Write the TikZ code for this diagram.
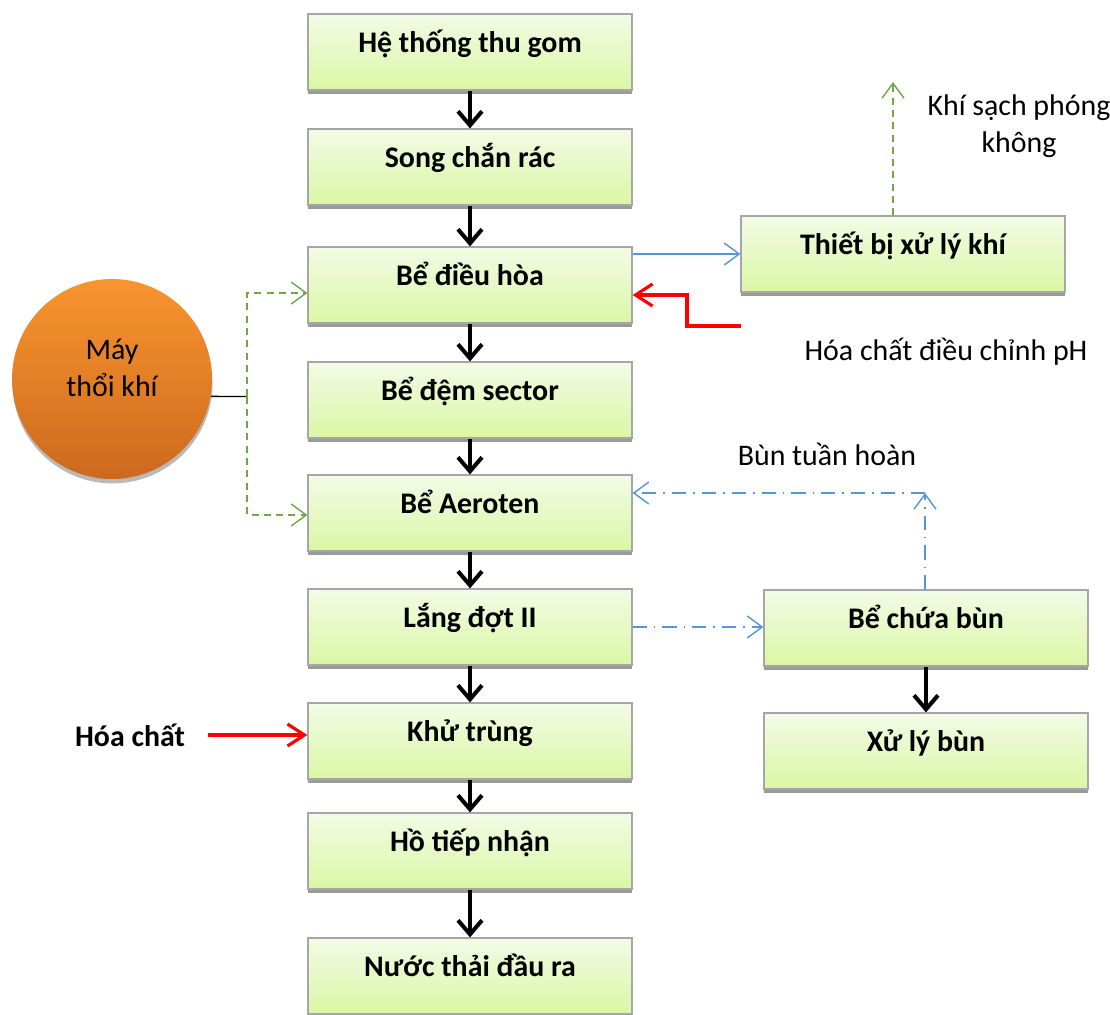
\documentclass[tikz,border=0pt]{standalone}
\usepackage{fontspec}
\setmainfont{Carlito}
\usepackage{tikz}
\usetikzlibrary{arrows.meta, shadows}

\definecolor{boxtop}{HTML}{F3FBE7}
\definecolor{boxbot}{HTML}{DAF7A4}
\definecolor{boxline}{HTML}{A6A6A6}
\definecolor{boxshade}{HTML}{9A9A9A}
\definecolor{orangetop}{HTML}{F8952F}
\definecolor{orangebot}{HTML}{CD691D}
\definecolor{airgreen}{RGB}{112,166,72}
\definecolor{sludgeblue}{RGB}{84,150,220}

\begin{document}
\begin{tikzpicture}[
  every node/.style={font=\fontsize{17}{21}\selectfont},
  box/.style={draw=boxline, line width=0.7pt, top color=boxtop, bottom color=boxbot,
    minimum width=6.48cm, minimum height=1.52cm, text height=3.5mm, text depth=3.5mm,
    font=\fontsize{17}{21}\selectfont\bfseries,
    general shadow={fill=boxshade, shadow yshift=-2.3pt}},
  blower/.style={circle, minimum size=4cm, top color=orangetop, bottom color=orangebot,
    general shadow={fill=gray!55, shadow xshift=0.3pt, shadow yshift=-2.5pt}},
  flow/.style={line width=2.3pt, -{Straight Barb[length=2.8mm, width=4.8mm]}},
  gasarrow/.style={sludgeblue, line width=0.8pt, -{Straight Barb[length=3mm, width=4.4mm]}},
  airline/.style={airgreen, line width=0.8pt, dash pattern=on 4pt off 3pt, -{Straight Barb[length=3mm, width=4.4mm]}},
  sludge/.style={sludgeblue, line width=0.8pt, dash pattern=on 8pt off 4pt on 1pt off 4pt, -{Straight Barb[length=3mm, width=4.4mm]}},
  chem/.style={red, line width=1.8pt, -{Straight Barb[length=3.4mm, width=4.4mm]}}
]
  \useasboundingbox (0, 0) rectangle (22.2, -20.28);

  % main treatment line
  \node[box] (htg) at (9.4, -1.04) {Hệ thống thu gom};
  \node[box] (scr) at (9.4, -3.34) {Song chắn rác};
  \node[box] (bdh) at (9.4, -5.70) {Bể điều hòa};
  \node[box] (bds) at (9.4, -8.00) {Bể đệm sector};
  \node[box] (bae) at (9.4, -10.26) {Bể Aeroten};
  \node[box] (ldt) at (9.4, -12.54) {Lắng đợt II};
  \node[box] (kt) at (9.4, -14.82) {Khử trùng};
  \node[box] (htn) at (9.4, -17.02) {Hồ tiếp nhận};
  \node[box] (ntr) at (9.4, -19.52) {Nước thải đầu ra};

  \draw[flow] (htg) -- (scr);
  \draw[flow] (scr) -- (bdh);
  \draw[flow] (bdh) -- (bds);
  \draw[flow] (bds) -- (bae);
  \draw[flow] (bae) -- (ldt);
  \draw[flow] (ldt) -- (kt);
  \draw[flow] (kt) -- (htn);
  \draw[flow] (htn) -- (ntr);

  % gas treatment
  \node[box] (tbxl) at (18.06, -5.08) {Thiết bị xử lý khí};
  \coordinate (khi) at (17.86, -1.64);
  \node[align=center] (khitext) at (20.38, -2.52) {Khí sạch phóng\\không};
  \draw[gasarrow] (bdh.east |- tbxl.west) -- (tbxl.west);
  \draw[airline] (tbxl.north -| khi) -- (khi);

  % pH correction
  \coordinate (ph) at (14.82, -6.52);
  \node (phtext) at (18.92, -7.04) {Hóa chất điều chỉnh pH};
  \draw[chem] (ph) -- ++(-1.08, 0) |- ([yshift=-2mm]bdh.east);

  % air blower
  \node[blower] (mtk) at (2.24, -7.58) {};
  \node[align=center] (mtktext) at (2.24, -7.36) {Máy\\thổi khí};
  \coordinate (split) at (4.94, -7.93);
  \draw[line width=0.8pt] (mtk.-10) -- (split);
  \draw[airline] (split) |- ([yshift=-1.6mm]bdh.west);
  \draw[airline] (split) |- ([yshift=-0.4mm]bae.west);

  % sludge line
  \node[box] (bcb) at (18.52, -12.56) {Bể chứa bùn};
  \node[box] (xlb) at (18.52, -15.02) {Xử lý bùn};
  \coordinate (ret) at (18.5, -9.86);
  \node (buntext) at (16.54, -9.08) {Bùn tuần hoàn};
  \draw[sludge] (ldt.east) -- (ldt.east -| bcb.west);
  \draw[sludge] (bcb.north -| ret) -- (ret);
  \draw[sludge] (ret) -- (ret -| bae.east);
  \draw[flow] (bcb) -- (xlb);

  % disinfection chemical
  \node[font=\fontsize{17}{21}\selectfont\bfseries] (hc) at (2.6, -14.7) {Hóa chất};
  \draw[chem, shorten <=3.4mm] (hc) -- (hc -| kt.west);
\end{tikzpicture}
\end{document}
